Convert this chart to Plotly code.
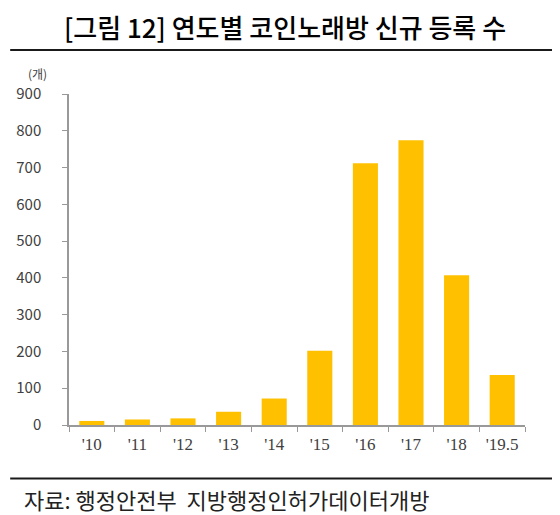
"""Bar chart of new coin-karaoke registrations by year."""

import plotly.graph_objects as go

# Data.
years = ["'10", "'11", "'12", "'13", "'14", "'15", "'16", "'17", "'18", "'19.5"]
registrations = [11, 15, 18, 36, 72, 202, 712, 774, 407, 136]
y_ticks = [0, 100, 200, 300, 400, 500, 600, 700, 800, 900]

title_text = "[그림 12] 연도별 코인노래방 신규 등록 수"
source_text = "자료: 행정안전부  지방행정인허가데이터개방"
unit_text = "(개)"

KR_FONT = "Noto Sans CJK KR"
AXIS_GRAY = "#999999"
LABEL_GRAY = "#404040"

bars = go.Bar(x=years,
              y=registrations,
              width=0.55,
              marker=dict(color="#ffc000", line=dict(width=0)),
              hoverinfo="x+y")

# The page body adds an 8px margin, so the figure is a little smaller
# than the window.
layout = go.Layout(
    width=552,
    height=507,
    margin=dict(l=61, r=35, t=86, b=90, autoexpand=False),
    paper_bgcolor="white",
    plot_bgcolor="white",
    showlegend=False,
    xaxis=dict(type="category",
               automargin=False,
               showline=True,
               linecolor=AXIS_GRAY,
               linewidth=1.5,
               ticks="outside",
               tickson="boundaries",
               ticklen=5,
               tickcolor=AXIS_GRAY,
               ticklabelstandoff=3,
               tickfont=dict(family="Liberation Serif", size=17,
                             color=LABEL_GRAY),
               showgrid=False),
    yaxis=dict(range=[0, 900],
               automargin=False,
               tickvals=y_ticks,
               showline=True,
               linecolor=AXIS_GRAY,
               linewidth=1.5,
               ticks="outside",
               ticklen=5,
               tickcolor=AXIS_GRAY,
               ticklabelstandoff=18,
               tickfont=dict(family=KR_FONT, size=15, color=LABEL_GRAY),
               showgrid=False,
               zeroline=False),
    shapes=[
        # Rule under the title.
        dict(type="line", xref="paper", yref="paper",
             x0=-0.129, x1=1.072, y0=1.133, y1=1.133,
             line=dict(color="#1a1a1a", width=2)),
        # Rule above the source note.
        dict(type="line", xref="paper", yref="paper",
             x0=-0.129, x1=1.072, y0=-0.162, y1=-0.162,
             line=dict(color="#1a1a1a", width=2)),
    ],
    annotations=[
        dict(text=title_text, xref="paper", yref="paper",
             x=0.474, y=1.205, xanchor="center", yanchor="middle",
             showarrow=False,
             font=dict(family=KR_FONT, size=26, color="black",
                       weight=500)),
        dict(text=unit_text, xref="paper", yref="paper",
             x=-0.07, y=1.062, xanchor="center", yanchor="middle",
             showarrow=False,
             font=dict(family=KR_FONT, size=12, color=LABEL_GRAY)),
        dict(text=source_text, xref="paper", yref="paper",
             x=-0.103, y=-0.2236, xanchor="left", yanchor="middle",
             showarrow=False,
             font=dict(family=KR_FONT, size=22, color="#222222")),
    ],
)

fig = go.Figure(data=[bars], layout=layout)
fig.write_html("out.html")
